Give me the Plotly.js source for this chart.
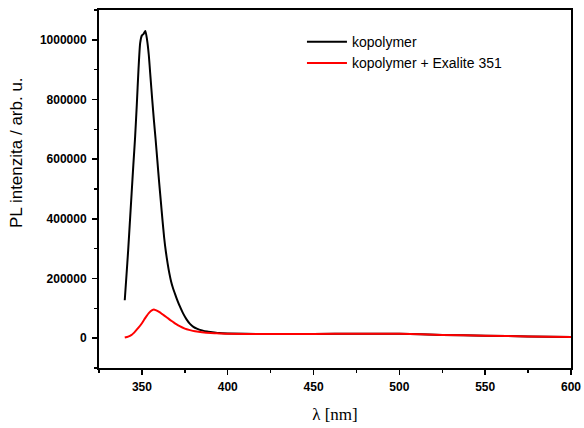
<!DOCTYPE html>
<html>
<head>
<meta charset="utf-8">
<script src="https://cdn.plot.ly/plotly-3.0.1.min.js"></script>
<style>html,body{margin:0;padding:0;background:#fff;}#chart{width:584px;height:428px;}</style>
</head>
<body>
<div id="chart"></div>
<script>
const seriesNames = ["kopolymer", "kopolymer + Exalite 351"];

const wavelengthBlack = [340,341,342,343,344,345,346,347,348,349,350,351,352,353,354,355,356,357,358,359,360,361,362,363,364,365,366,367,368,369,370,371,372,374,376,378,380,382,385,388,391,395,400,420,450,475,500,525,550,575,600];
const intensityBlack = [127000,210000,295000,390000,485000,580000,670000,780000,900000,990000,1015000,1020000,1030000,1000000,950000,875000,800000,730000,665000,595000,525000,460000,395000,335000,288000,250000,217000,190000,170000,153000,137000,122000,108000,83000,63000,48000,38000,32000,26000,22000,20000,17000,15500,14000,14000,15000,14500,11000,8500,6000,4000];

const wavelengthRed = [340,342,344,345,346,348,350,352,354,356,357,358,360,362,364,366,368,370,372,375,378,381,385,390,395,400,420,450,475,500,525,550,575,600];
const intensityRed = [2000,5000,11000,16000,22000,35000,50000,68000,84000,94000,96000,94000,88000,80000,72000,63000,55000,47000,40000,32000,27000,23000,19500,17000,16000,15000,14000,14000,15000,14500,11000,8500,6000,4000];

const xTickVals = [350,400,450,500,550,600];
const yTickVals = [0,200000,400000,600000,800000,1000000];
const xTitle = "λ [nm]";
const yTitle = "PL intenzita / arb. u.";

const tickFont = {family: "Liberation Sans, Arial, sans-serif", size: 12, color: "#000", weight: "bold"};

const traces = [
  {x: wavelengthBlack, y: intensityBlack, name: seriesNames[0], type: "scatter", mode: "lines",
   line: {color: "#000000", width: 2, shape: "spline", smoothing: 0.6}},
  {x: wavelengthRed, y: intensityRed, name: seriesNames[1], type: "scatter", mode: "lines",
   line: {color: "#ff0000", width: 2, shape: "spline", smoothing: 0.6}}
];

const layout = {
  width: 584, height: 428,
  margin: {l: 99, r: 13, t: 10, b: 60},
  paper_bgcolor: "#fff", plot_bgcolor: "#fff",
  showlegend: true,
  legend: {x: 0.43, y: 0.955, xanchor: "left", yanchor: "top", bgcolor: "rgba(0,0,0,0)",
    font: {family: "Liberation Sans, Arial, sans-serif", size: 14, color: "#000"}, tracegroupgap: 0, itemwidth: 40},
  xaxis: {
    range: [325, 600], tickvals: xTickVals, ticktext: xTickVals.map(String),
    ticks: "outside", ticklen: 5, tickwidth: 1.5, tickcolor: "#000",
    minor: {ticks: "outside", ticklen: 3, tickwidth: 1.5, tickcolor: "#000", dtick: 25, tick0: 325, showgrid: false},
    showline: true, linecolor: "#000", linewidth: 2, mirror: true,
    showgrid: false, zeroline: false, tickfont: tickFont, ticklabelstandoff: 2,
    title: {text: xTitle, font: {family: "Liberation Serif, Times New Roman, serif", size: 17, color: "#000"}, standoff: 15}
  },
  yaxis: {
    range: [-100000, 1100000], tickvals: yTickVals, ticktext: yTickVals.map(String),
    ticks: "outside", ticklen: 5, tickwidth: 1.5, tickcolor: "#000",
    minor: {ticks: "outside", ticklen: 3, tickwidth: 1.5, tickcolor: "#000", dtick: 100000, tick0: -100000, showgrid: false},
    showline: true, linecolor: "#000", linewidth: 2, mirror: true,
    showgrid: false, zeroline: false, tickfont: tickFont, ticklabelstandoff: 3
  },
  annotations: [
    {text: yTitle, xref: "paper", yref: "paper", x: 0, y: 0.6006, xshift: -82,
     xanchor: "center", yanchor: "middle", textangle: -90, showarrow: false,
     font: {family: "Liberation Sans, Arial, sans-serif", size: 17, color: "#000"}}
  ]
};

Plotly.newPlot("chart", traces, layout, {displayModeBar: false, staticPlot: true});
</script>
</body>
</html>
